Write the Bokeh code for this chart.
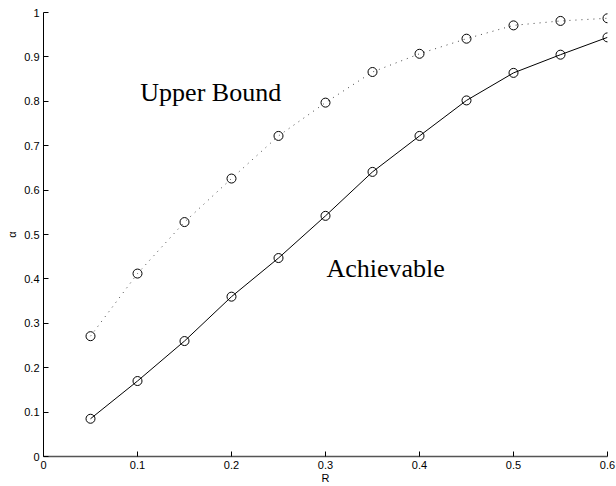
from bokeh.plotting import figure
from bokeh.models import Label, FixedTicker
from bokeh.embed import file_html
from bokeh.resources import INLINE

# data
rates = [0.05, 0.10, 0.15, 0.20, 0.25, 0.30, 0.35, 0.40, 0.45, 0.50, 0.55, 0.60]
achievable = [0.085, 0.170, 0.260, 0.360, 0.447, 0.542, 0.641, 0.722, 0.802, 0.864, 0.905, 0.944]
upper_bound = [0.271, 0.412, 0.528, 0.626, 0.722, 0.797, 0.866, 0.907, 0.941, 0.971, 0.981, 0.987]
x_ticks = [0, 0.1, 0.2, 0.3, 0.4, 0.5, 0.6]
x_tick_labels = ["0", "0.1", "0.2", "0.3", "0.4", "0.5", "0.6"]
y_ticks = [0, 0.1, 0.2, 0.3, 0.4, 0.5, 0.6, 0.7, 0.8, 0.9, 1.0]
y_tick_labels = ["0", "0.1", "0.2", "0.3", "0.4", "0.5", "0.6", "0.7", "0.8", "0.9", "1"]

p = figure(width=616, height=486, x_range=(0, 0.6), y_range=(0, 1),
           output_backend="svg", toolbar_location=None,
           min_border_left=43, min_border_right=9, min_border_top=12, min_border_bottom=30)
p.outline_line_color = None
p.grid.visible = False
p.background_fill_color = "white"

# upper bound: dotted
p.line(rates, upper_bound, line_color="#444444", line_width=1, line_dash="1 5")
p.scatter(rates, upper_bound, marker="circle", size=9, fill_color=None,
          line_color="black", line_width=1)
# achievable: solid
p.line(rates, achievable, line_color="black", line_width=1)
p.scatter(rates, achievable, marker="circle", size=9, fill_color=None,
          line_color="black", line_width=1)

p.add_layout(Label(x=0.103, y=0.788, text="Upper Bound", text_font="Liberation Serif",
                   text_font_size="26px", text_color="black"))
p.add_layout(Label(x=0.301, y=0.390, text="Achievable", text_font="Liberation Serif",
                   text_font_size="26px", text_color="black"))

for ax in (p.xaxis[0], p.yaxis[0]):
    ax.major_tick_in = 5
    ax.major_tick_out = 0
    ax.minor_tick_in = 0
    ax.minor_tick_out = 0
    ax.major_label_text_font = "Liberation Sans"
    ax.major_label_text_font_size = "11px"
    ax.major_label_text_color = "black"
    ax.axis_label_text_font = "Liberation Sans"
    ax.axis_label_text_font_size = "11px"
    ax.axis_label_text_font_style = "normal"
    ax.axis_label_text_color = "black"
    ax.axis_line_color = "black"
    ax.major_tick_line_color = "black"

p.xaxis[0].ticker = FixedTicker(ticks=x_ticks)
p.xaxis[0].major_label_overrides = {t: s for t, s in zip(x_ticks, x_tick_labels)}
p.yaxis[0].ticker = FixedTicker(ticks=y_ticks)
p.yaxis[0].major_label_overrides = {t: s for t, s in zip(y_ticks, y_tick_labels)}
p.xaxis[0].axis_label = "R"
p.yaxis[0].axis_label = "α"
p.xaxis[0].major_label_standoff = 4
p.xaxis[0].axis_label_standoff = 0
p.yaxis[0].major_label_standoff = 4
p.yaxis[0].axis_label_standoff = 3
p.xaxis[0].axis_line_color = "#555555"
p.xaxis[0].axis_line_width = 1.5

open("out.html", "w").write(file_html(p, INLINE))
